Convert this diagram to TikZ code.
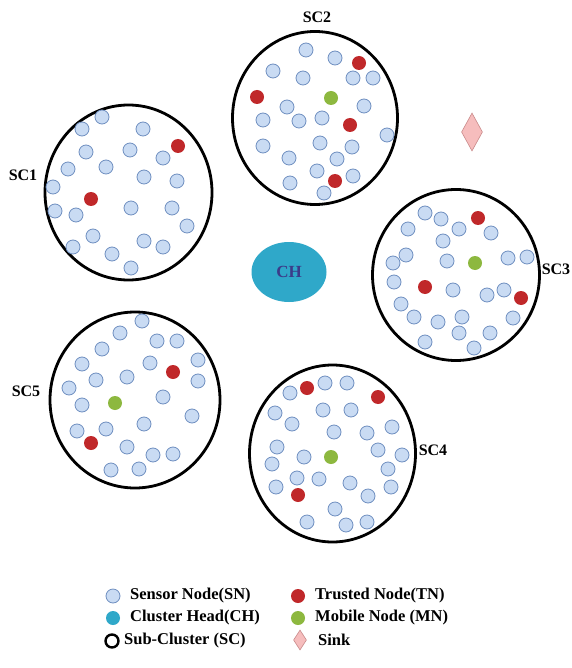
\documentclass[tikz,border=0pt]{standalone}
\usepackage{fontspec}
\setmainfont{Liberation Serif}
\usetikzlibrary{shapes.geometric}
\definecolor{snfill}{HTML}{C9DBF3}
\definecolor{sndraw}{HTML}{6F8FC0}
\definecolor{tnfill}{HTML}{C0282A}
\definecolor{mnfill}{HTML}{8DB83F}
\definecolor{chfill}{HTML}{2FA8C9}
\definecolor{chtext}{HTML}{3B3C8A}
\definecolor{sinkfill}{HTML}{F6BDBD}
\definecolor{sinkdraw}{HTML}{C98A8A}
\tikzset{
  sn/.style={circle, draw=sndraw, line width=0.8pt, fill=snfill, minimum size=14pt, inner sep=0pt},
  tn/.style={circle, fill=tnfill, minimum size=14pt, inner sep=0pt},
  mn/.style={circle, fill=mnfill, minimum size=14pt, inner sep=0pt},
  subcl/.style={ellipse, draw=black, line width=2.8pt, inner sep=0pt},
  sclabel/.style={font=\fontsize{16}{18}\selectfont\bfseries, inner sep=0pt},
  legtext/.style={font=\fontsize{16.5}{19}\selectfont\bfseries, anchor=west, inner sep=0pt},
}
\begin{document}
\begin{tikzpicture}[x=1pt,y=-1pt]
\useasboundingbox[fill=white] (0,0) rectangle (571,668);
% sub-clusters
\node[subcl, minimum width=167pt, minimum height=175pt] (sc1) at (128.5,192.5) {};
\node[subcl, minimum width=165pt, minimum height=173pt] (sc2) at (315,118) {};
\node[subcl, minimum width=167pt, minimum height=171pt] (sc3) at (456,275) {};
\node[subcl, minimum width=166pt, minimum height=177pt] (sc4) at (332.5,453.5) {};
\node[subcl, minimum width=170pt, minimum height=176pt] (sc5) at (135,400) {};
% labels
\node[sclabel] (l1) at (23,175) {SC1};
\node[sclabel] (l2) at (317,17) {SC2};
\node[sclabel] (l3) at (556,269) {SC3};
\node[sclabel] (l4) at (433,450) {SC4};
\node[sclabel] (l5) at (26,391) {SC5};
% SC1 nodes
\foreach \x/\y [count=\i] in {102/117,82/129,143/129,86/152,130/150,163/158,68/169,106/167,144/177,177/181,53/187,55/211,76/215,131/208,172/208,187/226,93/236,73/247,144/241,163/247,112/254,131/268}
  \node[sn] (a\i) at (\x,\y) {};
\foreach \x/\y [count=\i] in {178/146,91/199}
  \node[tn] (at\i) at (\x,\y) {};
% SC2 nodes
\foreach \x/\y [count=\i] in {306/50,335/58,273/71,303/78,353/78,373/78,287/107,364/106,263/120,299/121,322/118,387/135,263/146,320/143,352/147,289/158,337/159,317/171,353/176,290/183,324/193}
  \node[sn] (b\i) at (\x,\y) {};
\foreach \x/\y [count=\i] in {359/63,257/97,350/125,335/181}
  \node[tn] (bt\i) at (\x,\y) {};
\node[mn] (bm) at (331,98) {};
% SC3 nodes
\foreach \x/\y [count=\i] in {425/213,441/219,408/229,459/229,491/233,443/241,406/255,393/263,447/261,508/258,527/257,394/282,453/290,487/295,504/290,401/304,414/317,438/322,462/317,513/318,459/333,490/333,425/342,474/348}
  \node[sn] (c\i) at (\x,\y) {};
\foreach \x/\y [count=\i] in {478/218,425/287,521/298}
  \node[tn] (ct\i) at (\x,\y) {};
\node[mn] (cm) at (475,263) {};
% SC4 nodes
\foreach \x/\y [count=\i] in {290/393,325/383,347/383,275/413,323/410,351/410,292/424,334/432,367/433,392/427,277/447,378/450,402/455,272/464,304/457,388/469,297/478,319/479,350/483,276/487,368/496,391/487,335/509,307/522,346/525,367/522}
  \node[sn] (d\i) at (\x,\y) {};
\foreach \x/\y [count=\i] in {307/388,378/397,298/495}
  \node[tn] (dt\i) at (\x,\y) {};
\node[mn] (dm) at (331,457) {};
% SC5 nodes
\foreach \x/\y [count=\i] in {142/321,120/333,157/341,177/341,102/349,82/364,150/363,198/360,96/380,127/377,198/381,69/388,163/397,82/405,192/416,144/424,77/431,106/429,127/447,153/455,173/454,111/470,139/469}
  \node[sn] (e\i) at (\x,\y) {};
\foreach \x/\y [count=\i] in {173/372,91/443}
  \node[tn] (et\i) at (\x,\y) {};
\node[mn] (em) at (115,403) {};
% cluster head
\node[ellipse, fill=chfill, minimum width=75pt, minimum height=60pt, inner sep=0pt,
      text=chtext, font=\fontsize{17}{19}\selectfont\bfseries] (ch) at (289,272) {CH};
% sink
\node[diamond, draw=sinkdraw, fill=sinkfill, line width=0.6pt, minimum width=21pt, minimum height=38pt, inner sep=0pt] (sink) at (472,132) {};
% legend
\node[sn] (lsn) at (113,596) {};
\node[legtext] (tsn) at (130,596) {Sensor Node(SN)};
\node[circle, fill=chfill, minimum size=14pt, inner sep=0pt] (lch) at (113,618) {};
\node[legtext] (tch) at (130,618) {Cluster Head(CH)};
\node[circle, draw=black, line width=2.4pt, minimum size=13pt, inner sep=0pt] (lsc) at (112,641) {};
\node[legtext] (tsc) at (124,641) {Sub-Cluster (SC)};
\node[tn] (ltn) at (298,596) {};
\node[legtext] (ttn) at (315,596) {Trusted Node(TN)};
\node[mn] (lmn) at (298,618) {};
\node[legtext] (tmn) at (315,618) {Mobile Node (MN)};
\node[diamond, draw=sinkdraw, fill=sinkfill, line width=0.6pt, minimum width=13pt, minimum height=20pt, inner sep=0pt] (lsink) at (300,640) {};
\node[legtext] (tsink) at (318,640) {Sink};
\end{tikzpicture}
\end{document}
